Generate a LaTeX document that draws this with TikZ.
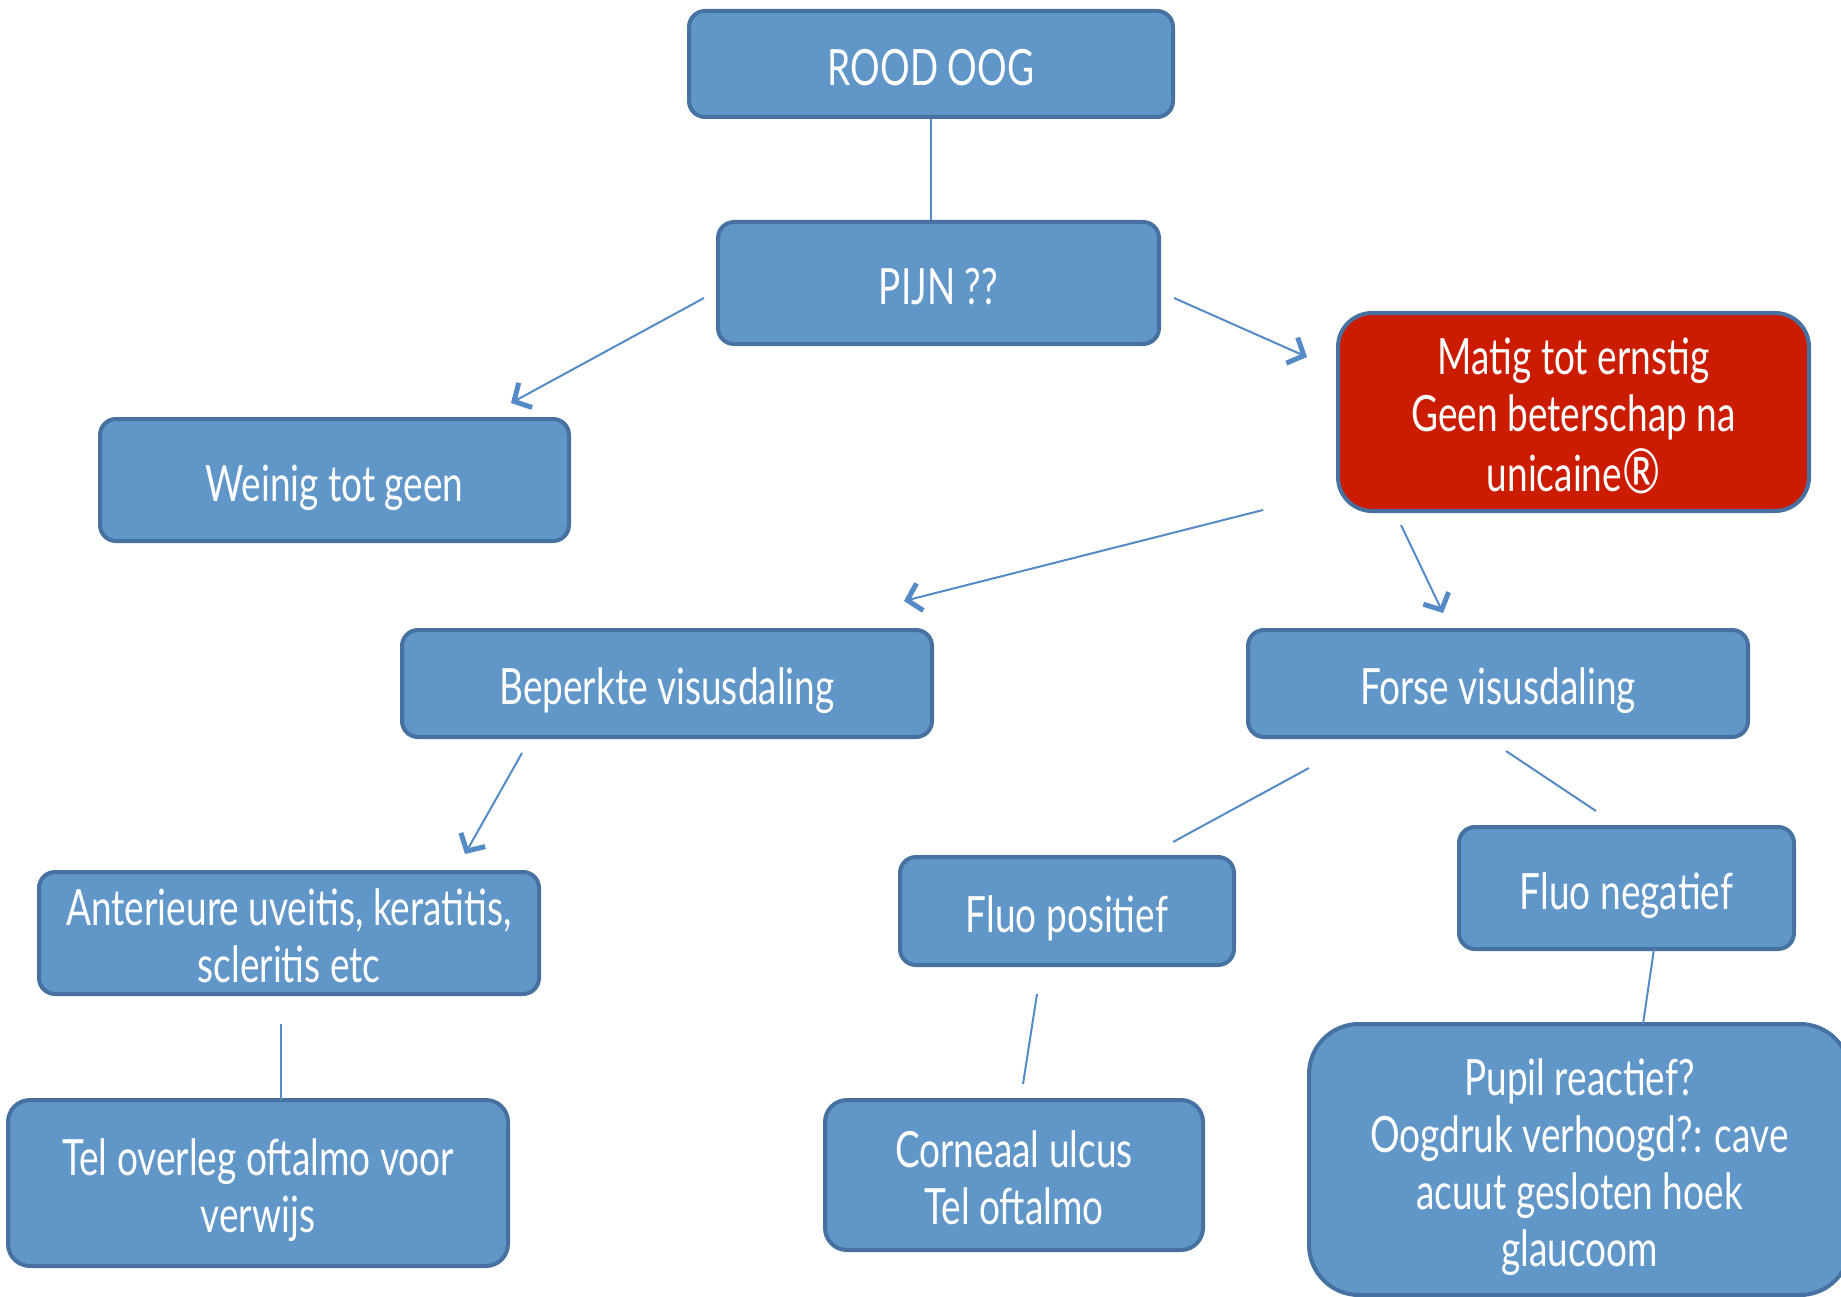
\documentclass[tikz,border=0pt]{standalone}
\usepackage{fontspec}
\setmainfont{Lato}[FakeStretch=0.74]
\usetikzlibrary{arrows.meta}
\definecolor{boxfill}{RGB}{97,150,200}
\definecolor{boxdraw}{RGB}{70,113,160}
\definecolor{redfill}{RGB}{204,28,0}
\definecolor{conn}{RGB}{84,138,198}
\newsavebox\bxbox
\newcommand\bxt[1]{\sbox\bxbox{\begin{tabular}{@{}c@{}}#1\end{tabular}}\raisebox{-10pt}[\ht\bxbox][\dp\bxbox]{\usebox\bxbox}}
\tikzset{
  boxnode/.style={draw=boxdraw, fill=boxfill, line width=4pt, rounded corners=16pt,
    text=white, align=center, inner sep=0pt, font=\fontsize{50}{57}\selectfont},
  conline/.style={draw=conn, line width=2pt},
  conarrow/.style={conline, -{Straight Barb[length=13pt,width=28pt,line width=5pt]}},
}
\begin{document}
\begin{tikzpicture}[x=1pt,y=-1pt]
\useasboundingbox (0,0) rectangle (1841,1297);
\begin{scope}
\clip (0,0) rectangle (1841,1297);
\node[boxnode, minimum width=484pt, minimum height=106pt] (rood) at (931,64) {\bxt{ROOD OOG}};
\node[boxnode, minimum width=441pt, minimum height=122pt] (pijn) at (938.5,283) {\bxt{PIJN ??}};
\node[boxnode, minimum width=469pt, minimum height=122pt] (weinig) at (334.5,480) {\bxt{Weinig tot geen}};
\node[boxnode, fill=redfill, rounded corners=34pt, minimum width=471pt, minimum height=198pt] (matig) at (1573.5,412) {\bxt{Matig tot ernstig\\Geen beterschap na\\unicaine{\fontsize{62}{57}\selectfont\raisebox{-2pt}{®}}}};
\node[boxnode, minimum width=530pt, minimum height=107pt] (beperkte) at (667,683.5) {\bxt{Beperkte visusdaling}};
\node[boxnode, minimum width=500pt, minimum height=107pt] (forse) at (1498,683.5) {\bxt{Forse visusdaling}};
\node[boxnode, minimum width=334pt, minimum height=108pt] (fluopos) at (1067,911) {\bxt{Fluo positief}};
\node[boxnode, minimum width=335pt, minimum height=122pt] (fluoneg) at (1626.5,888) {\bxt{Fluo negatief}};
\node[boxnode, minimum width=500pt, minimum height=122pt] (anter) at (289,933) {\bxt{Anterieure uveitis, keratitis,\\scleritis etc}};
\node[boxnode, rounded corners=22pt, minimum width=500pt, minimum height=166pt] (tel) at (258,1183) {\bxt{Tel overleg oftalmo voor\\verwijs}};
\node[boxnode, rounded corners=22pt, minimum width=378pt, minimum height=150pt] (corneaal) at (1014,1175) {\bxt{Corneaal ulcus\\Tel oftalmo}};
\node[boxnode, rounded corners=50pt, minimum width=541pt, minimum height=271pt] (pupil) at (1579.5,1159.5) {\bxt{Pupil reactief?\\Oogdruk verhoogd?: cave\\acuut gesloten hoek\\glaucoom}};
\end{scope}

\coordinate (a1) at (704,298);  \coordinate (a2) at (511,403);
\coordinate (b1) at (1174,298); \coordinate (b2) at (1307,357);
\coordinate (c1) at (1263,510); \coordinate (c2) at (904,601);
\coordinate (d1) at (1401,525); \coordinate (d2) at (1443,613);
\coordinate (e1) at (522,753);  \coordinate (e2) at (465,854);
\coordinate (f1) at (1309,768); \coordinate (f2) at (1173,842);
\coordinate (g1) at (1506,751); \coordinate (g2) at (1596,811);
\coordinate (h1) at (1037,994); \coordinate (h2) at (1023,1084);
\coordinate (i1) at (281,1024); \coordinate (i2) at (281,1100);
\coordinate (j1) at (1654,949); \coordinate (j2) at (1643,1024);

\draw[conline] (rood.south) -- (rood.south |- pijn.north);
\draw[conarrow] (a1) -- (a2);
\draw[conarrow] (b1) -- (b2);
\draw[conarrow] (c1) -- (c2);
\draw[conarrow] (d1) -- (d2);
\draw[conarrow] (e1) -- (e2);
\draw[conline] (f1) -- (f2);
\draw[conline] (g1) -- (g2);
\draw[conline] (h1) -- (h2);
\draw[conline] (i1) -- (i2);
\draw[conline] (j1) -- (j2);
\end{tikzpicture}
\end{document}
